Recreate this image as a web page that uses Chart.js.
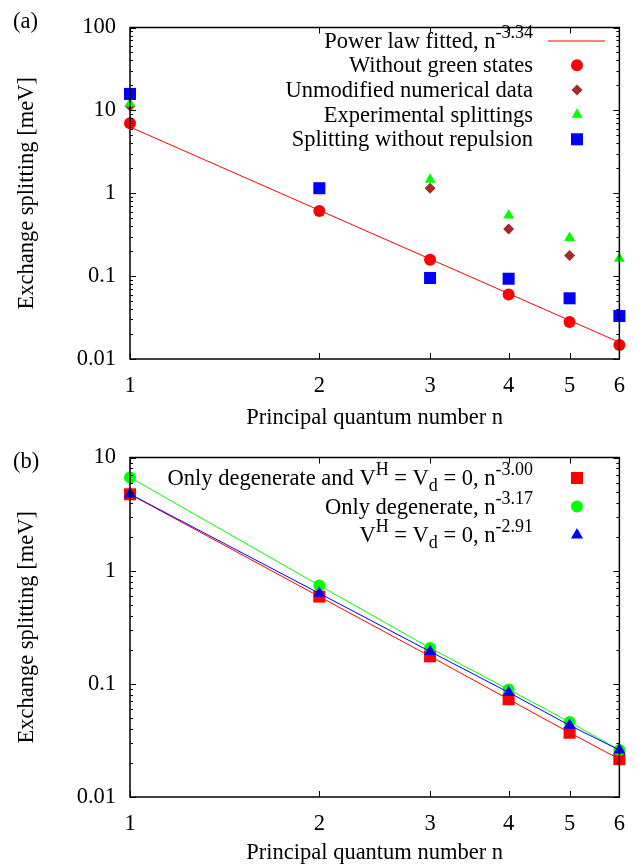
<!DOCTYPE html>
<html>
<head>
<meta charset="utf-8">
<script src="https://cdn.jsdelivr.net/npm/chart.js@4.4.1/dist/chart.umd.min.js"></script>
<style>
    html, body { margin: 0; padding: 0; background: #fff; overflow: hidden; }
    #wrapA { position: absolute; left: 0; top: 0; width: 639px; height: 430px; }
    #wrapB { position: absolute; left: 0; top: 430px; width: 639px; height: 435px; }
</style>
</head>
<body>
<div id="wrapA"><canvas id="chartA"></canvas></div>
<div id="wrapB"><canvas id="chartB"></canvas></div>
<script>
// valores
const nValues = [1, 2, 3, 4, 5, 6];

// panel (a)
const fitN = [1, 6];
const fitValues = [6.3, 0.0159];
const withoutGreen = [7.0, 0.61, 0.158, 0.060, 0.028, 0.0148];
const unmodified = [11.3, null, 1.15, 0.37, 0.177, null];
const experimental = [12.1, null, 1.46, 0.54, 0.29, 0.163];
const noRepulsion = [15.8, 1.15, 0.095, 0.093, 0.054, 0.033];

// panel (b)
const degNoHartree = [4.73, 0.59, 0.175, 0.073, 0.037, 0.0216];
const degOnly = [6.67, 0.74, 0.207, 0.089, 0.046, 0.026];
const noHartree = [4.75, 0.63, 0.193, 0.084, 0.043, 0.026];

const xTicks = [1, 2, 3, 4, 5, 6];
const yTicksA = [0.01, 0.1, 1, 10, 100];
const yLabelsA = ['0.01', '0.1', '1', '10', '100'];
const yTicksB = [0.01, 0.1, 1, 10];
const yLabelsB = ['0.01', '0.1', '1', '10'];

const FONT = '"Liberation Serif", "Times New Roman", serif';
const FS = 22.5;

function pts(xs, ys) {
    return xs.map((x, i) => ({ x: x, y: ys[i] })).filter(p => p.y !== null);
}

// marco completo con marcas hacia dentro (estilo gnuplot)
const frameTicks = {
    id: 'frameTicks',
    afterDraw(chart) {
        const { ctx, chartArea: a, scales: { x, y } } = chart;
        ctx.save();
        ctx.strokeStyle = '#000';
        ctx.lineWidth = 1;
        ctx.beginPath();
        const e0 = Math.round(Math.log10(y.min)), e1 = Math.round(Math.log10(y.max));
        for (let e = e0; e <= e1; e++) {
            for (let m = 1; m <= 9; m++) {
                if (e === e1 && m > 1) break;
                const py = Math.round(y.getPixelForValue(m * Math.pow(10, e))) + 0.5;
                const len = m === 1 ? 6 : 3;
                ctx.moveTo(a.left, py); ctx.lineTo(a.left + len, py);
                ctx.moveTo(a.right, py); ctx.lineTo(a.right - len, py);
            }
        }
        xTicks.forEach(v => {
            const px = Math.round(x.getPixelForValue(v)) + 0.5;
            ctx.moveTo(px, a.bottom); ctx.lineTo(px, a.bottom - 6);
            ctx.moveTo(px, a.top); ctx.lineTo(px, a.top + 6);
        });
        ctx.stroke();
        ctx.lineWidth = 1.5;
        ctx.strokeRect(a.left, a.top, a.right - a.left, a.bottom - a.top);
        ctx.restore();
    }
};

// leyenda con superindices / subindices, texto alineado a la derecha
function drawRich(ctx, parts, rightX, y) {
    const fontFor = m => (m === '' ? FS : FS * 0.8) + 'px ' + FONT;
    let w = 0;
    parts.forEach(p => { ctx.font = fontFor(p[1]); w += ctx.measureText(p[0]).width; });
    let x = rightX - w;
    parts.forEach(p => {
        ctx.font = fontFor(p[1]);
        const dy = p[1] === 'sup' ? -10 : (p[1] === 'sub' ? 6 : 0);
        ctx.fillText(p[0], x, y + dy);
        x += ctx.measureText(p[0]).width;
    });
}

const richLegend = {
    id: 'richLegend',
    afterDraw(chart, args, opts) {
        const ctx = chart.ctx;
        ctx.save();
        ctx.fillStyle = '#000';
        ctx.textBaseline = 'alphabetic';
        ctx.textAlign = 'left';
        ctx.font = FS + 'px ' + FONT;
        ctx.fillText(opts.panel, 13, opts.panelY);
        opts.items.forEach((it, i) => {
            const cy = opts.firstY + i * opts.step;
            ctx.fillStyle = '#000';
            drawRich(ctx, it.parts, opts.textRight, cy + 7);
            if (it.kind === 'line') {
                ctx.strokeStyle = it.color;
                ctx.lineWidth = 1;
                ctx.beginPath();
                ctx.moveTo(548, cy + 0.5);
                ctx.lineTo(605, cy + 0.5);
                ctx.stroke();
            } else {
                ctx.fillStyle = it.color;
                ctx.strokeStyle = it.color;
                Chart.helpers.drawPoint(ctx, { pointStyle: it.style, radius: it.radius, rotation: 0, borderWidth: 0 }, opts.symX, cy);
            }
        });
        ctx.restore();
    }
};

function scatterSet(label, data, color, style, radius, order, line) {
    return {
        label: label,
        data: data,
        showLine: !!line,
        borderColor: color,
        backgroundColor: color,
        borderWidth: 1,
        pointStyle: style,
        pointRadius: radius,
        pointBorderWidth: 0,
        pointHoverRadius: radius,
        order: order,
        clip: false
    };
}

function makeOptions(yTicks, yLabels, padTop, xAxisH, xTitlePad, legendOpts) {
    return {
        responsive: true,
        maintainAspectRatio: false,
        animation: false,
        layout: { padding: { top: padTop, right: 19, left: 0, bottom: 0 } },
        scales: {
            x: {
                type: 'logarithmic',
                min: 1,
                max: 6,
                afterBuildTicks: s => { s.ticks = xTicks.map(v => ({ value: v })); },
                afterFit: s => { s.height = xAxisH; },
                grid: { display: false, drawTicks: false },
                border: { display: false },
                ticks: {
                    autoSkip: false,
                    maxRotation: 0,
                    padding: 14,
                    color: '#000',
                    font: { family: FONT, size: FS },
                    callback: v => String(v)
                },
                title: {
                    display: true,
                    text: 'Principal quantum number n',
                    color: '#000',
                    font: { family: FONT, size: FS, lineHeight: 0.6 },
                    padding: { top: 0, bottom: xTitlePad }
                }
            },
            y: {
                type: 'logarithmic',
                min: yTicks[0],
                max: yTicks[yTicks.length - 1],
                afterBuildTicks: s => { s.ticks = yTicks.map(v => ({ value: v })); },
                afterFit: s => { s.width = 130; },
                grid: { display: false, drawTicks: false },
                border: { display: false },
                ticks: {
                    padding: 14,
                    color: '#000',
                    font: { family: FONT, size: FS },
                    callback: (v, i) => yLabels[i]
                },
                title: {
                    display: true,
                    text: 'Exchange splitting [meV]',
                    color: '#000',
                    font: { family: FONT, size: FS, lineHeight: 0.6 },
                    padding: { top: 20, bottom: 0 }
                }
            }
        },
        plugins: {
            legend: { display: false },
            tooltip: { enabled: false },
            richLegend: legendOpts
        }
    };
}

new Chart(document.getElementById('chartA'), {
    type: 'scatter',
    data: {
        datasets: [
            scatterSet('Power law fitted', pts(fitN, fitValues), '#ff0000', false, 0, 5, true),
            scatterSet('Without green states', pts(nValues, withoutGreen), '#ff0000', 'circle', 6, 4),
            scatterSet('Unmodified numerical data', pts(nValues, unmodified), '#a52a2a', 'rectRot', 5.5, 3),
            scatterSet('Experimental splittings', pts(nValues, experimental), '#00ff00', 'triangle', 6.3, 2),
            scatterSet('Splitting without repulsion', pts(nValues, noRepulsion), '#0000ff', 'rect', 8.5, 1)
        ]
    },
    options: makeOptions(yTicksA, yLabelsA, 19, 71, 5, {
        panel: '(a)',
        panelY: 28,
        textRight: 533,
        symX: 577,
        firstY: 40.5,
        step: 24.7,
        items: [
            { kind: 'line', color: '#ff0000', parts: [['Power law fitted, n', ''], ['-3.34', 'sup']] },
            { kind: 'point', color: '#ff0000', style: 'circle', radius: 6, parts: [['Without green states', '']] },
            { kind: 'point', color: '#a52a2a', style: 'rectRot', radius: 5.5, parts: [['Unmodified numerical data', '']] },
            { kind: 'point', color: '#00ff00', style: 'triangle', radius: 6.3, parts: [['Experimental splittings', '']] },
            { kind: 'point', color: '#0000ff', style: 'rect', radius: 8.5, parts: [['Splitting without repulsion', '']] }
        ]
    }),
    plugins: [frameTicks, richLegend]
});

new Chart(document.getElementById('chartB'), {
    type: 'scatter',
    data: {
        datasets: [
            scatterSet('Only degenerate and VH = Vd = 0', pts(nValues, degNoHartree), '#ff0000', 'rect', 8.5, 3, true),
            scatterSet('Only degenerate', pts(nValues, degOnly), '#00ff00', 'circle', 6, 2, true),
            scatterSet('VH = Vd = 0', pts(nValues, noHartree), '#0000ff', 'triangle', 7, 1, true)
        ]
    },
    options: makeOptions(yTicksB, yLabelsB, 26, 68, 5, {
        panel: '(b)',
        panelY: 38,
        textRight: 533,
        symX: 577,
        firstY: 48,
        step: 28.5,
        items: [
            { kind: 'point', color: '#ff0000', style: 'rect', radius: 8.5,
              parts: [['Only degenerate and V', ''], ['H', 'sup'], [' = V', ''], ['d', 'sub'], [' = 0, n', ''], ['-3.00', 'sup']] },
            { kind: 'point', color: '#00ff00', style: 'circle', radius: 6,
              parts: [['Only degenerate, n', ''], ['-3.17', 'sup']] },
            { kind: 'point', color: '#0000ff', style: 'triangle', radius: 7,
              parts: [['V', ''], ['H', 'sup'], [' = V', ''], ['d', 'sub'], [' = 0, n', ''], ['-2.91', 'sup']] }
        ]
    }),
    plugins: [frameTicks, richLegend]
});
</script>
</body>
</html>
